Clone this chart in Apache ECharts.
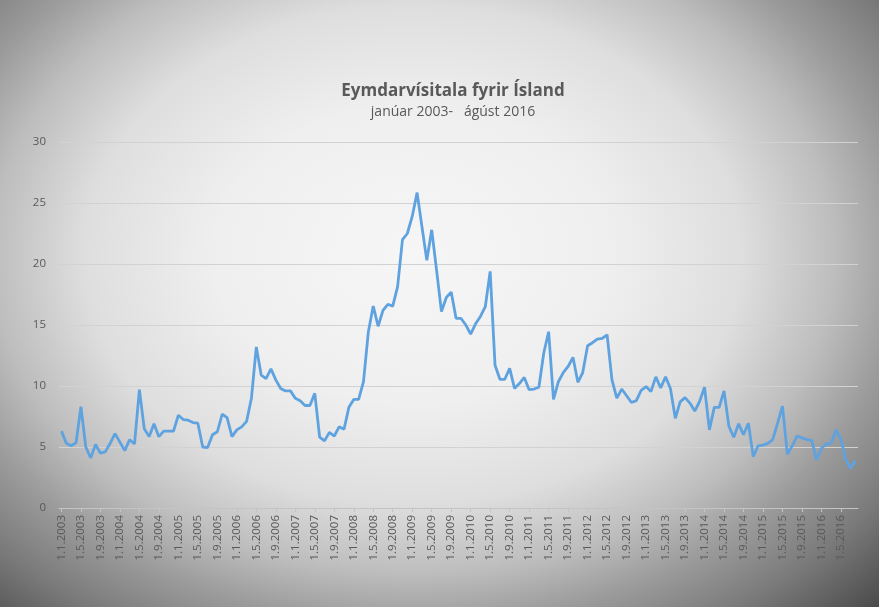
<!DOCTYPE html>
<html>
<head>
<meta charset="utf-8">
<script src="https://cdn.jsdelivr.net/npm/echarts@6/dist/echarts.min.js"></script>
<style>
html,body{margin:0;padding:0;}
#chart{width:879px;height:607px;
background: radial-gradient(ellipse farthest-corner at 47% 42%, #f6f6f6 0%, #efefef 30%, #dedede 50%, #bdbdbd 64%, #9c9c9c 74%, #7a7a7a 86%, #4a4a4a 100%);}
</style>
</head>
<body>
<div id="chart"></div>
<script>
const titleText = 'Eymdarvísitala fyrir Ísland';
const subtitleText = 'janúar 2003-   ágúst 2016';
const startYear = 2003;
const monthCount = 164; // jan 2003 - aug 2016
const yTicks = [0, 5, 10, 15, 20, 25, 30];
const values = [
 6.3, 5.3, 5.1, 5.35, 8.3, 5.0, 4.1, 5.2, 4.5, 4.6, 5.3, 6.1,
 5.4, 4.7, 5.6, 5.25, 9.7, 6.5, 5.85, 6.9, 5.85, 6.3, 6.3, 6.3,
 7.6, 7.25, 7.2, 7.0, 6.95, 5.0, 4.95, 6.0, 6.25, 7.7, 7.4, 5.85,
 6.4, 6.65, 7.1, 9.0, 13.2, 10.9, 10.6, 11.4, 10.5, 9.8, 9.6, 9.6,
 9.0, 8.8, 8.4, 8.4, 9.4, 5.8, 5.5, 6.2, 5.9, 6.65, 6.45, 8.25,
 8.9, 8.9, 10.35, 14.45, 16.55, 14.9, 16.2, 16.7, 16.55, 18.15, 22.0, 22.5,
 23.9, 25.85, 23.05, 20.3, 22.8, 19.5, 16.1, 17.25, 17.7, 15.55, 15.55, 15.0,
 14.25, 15.1, 15.7, 16.5, 19.4, 11.7, 10.55, 10.55, 11.45, 9.8, 10.2, 10.7,
 9.7, 9.75, 9.9, 12.7, 14.45, 8.9, 10.35, 11.1, 11.6, 12.35, 10.3, 11.1,
 13.3, 13.55, 13.85, 13.9, 14.2, 10.5, 9.0, 9.75, 9.2, 8.65, 8.8, 9.65,
 9.95, 9.55, 10.75, 9.85, 10.75, 9.8, 7.35, 8.7, 9.05, 8.6, 7.95, 8.75,
 9.9, 6.4, 8.25, 8.25, 9.6, 6.7, 5.8, 6.9, 6.0, 6.95, 4.2, 5.1,
 5.15, 5.3, 5.6, 6.95, 8.35, 4.4, 5.1, 5.9, 5.75, 5.6, 5.55, 3.95,
 4.9, 5.25, 5.3, 6.4, 5.6, 3.95, 3.25, 3.9
];
const categories = [];
for (let k = 0; k < monthCount; k++) {
  const y = startYear + Math.floor(k / 12);
  const m = (k % 12) + 1;
  categories.push('1.' + m + '.' + y);
}

const chart = echarts.init(document.getElementById('chart'), null, {renderer: 'canvas'});
const font = '"Open Sans", Lato, sans-serif';
chart.setOption({
  backgroundColor: 'transparent',
  animation: false,
  title: {
    text: titleText,
    subtext: subtitleText,
    left: 448,
    textAlign: 'center',
    top: 78,
    itemGap: 5,
    textStyle: {fontFamily: font, fontSize: 17, fontWeight: 'bold', color: '#595959'},
    subtextStyle: {fontFamily: font, fontSize: 14, color: '#595959'}
  },
  grid: {left: 59, right: 21, top: 142, bottom: 99, containLabel: false},
  xAxis: {
    type: 'category',
    data: categories,
    boundaryGap: true,
    axisLine: {lineStyle: {color: '#c4c4c4', width: 1}},
    axisTick: {show: true, interval: 3, alignWithLabel: true, length: 4, lineStyle: {color: '#c4c4c4'}},
    axisLabel: {interval: 3, rotate: 90, margin: 7, fontFamily: font, fontSize: 11.5, color: '#595959'}
  },
  yAxis: {
    type: 'value',
    min: yTicks[0],
    max: yTicks[yTicks.length - 1],
    interval: 5,
    axisLine: {show: false},
    axisTick: {show: false},
    axisLabel: {margin: 13, fontFamily: font, fontSize: 11.5, color: '#595959'},
    splitLine: {lineStyle: {color: '#d2d2d2', width: 1}}
  },
  series: [{
    type: 'line',
    data: values,
    showSymbol: false,
    symbol: 'none',
    lineStyle: {color: '#5fa2e0', width: 2.8},
    itemStyle: {color: '#5fa2e0'}
  }]
});
</script>
</body>
</html>
